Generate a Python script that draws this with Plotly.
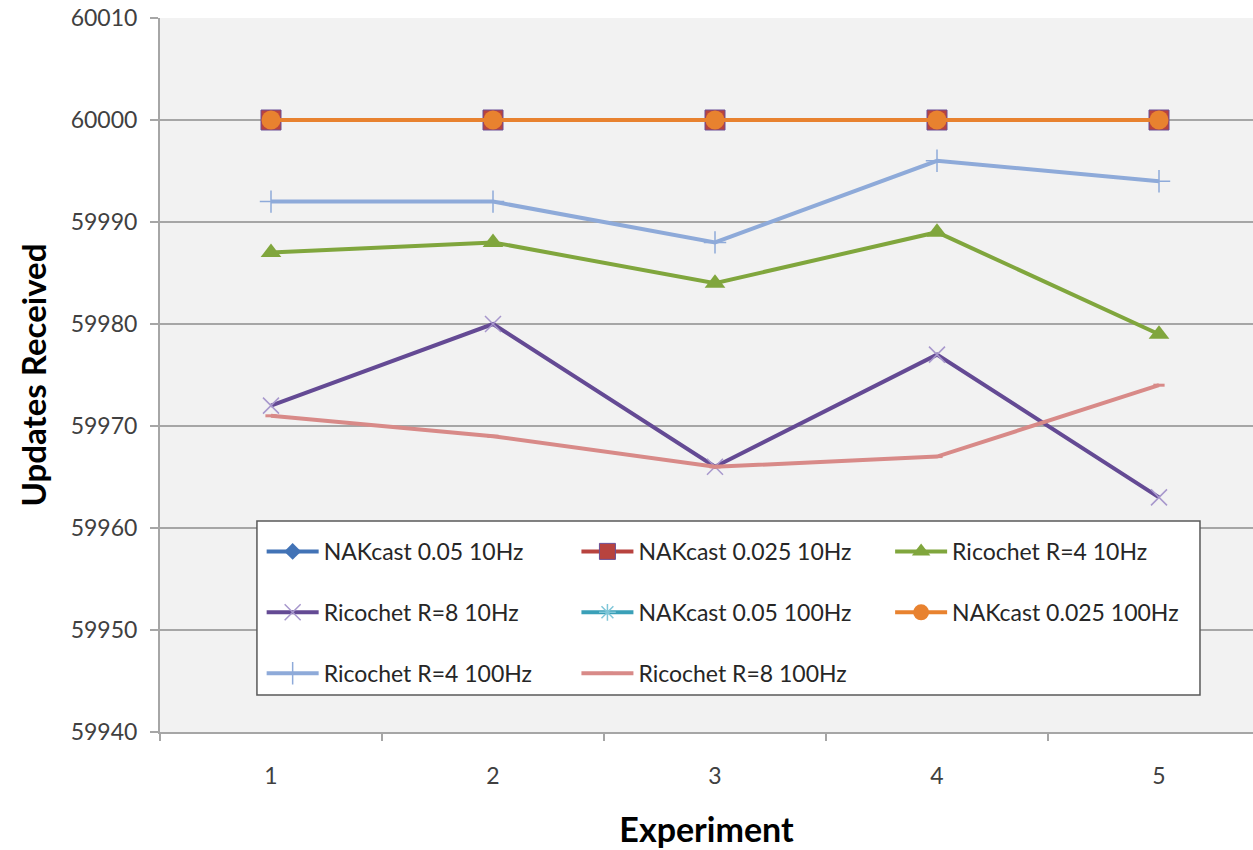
import plotly.graph_objects as go

experiments = [1, 2, 3, 4, 5]
nak_005_10 = [60000, 60000, 60000, 60000, 60000]
nak_0025_10 = [60000, 60000, 60000, 60000, 60000]
ric_r4_10 = [59987, 59988, 59984, 59989, 59979]
ric_r8_10 = [59972, 59980, 59966, 59977, 59963]
nak_005_100 = [60000, 60000, 60000, 60000, 60000]
nak_0025_100 = [60000, 60000, 60000, 60000, 60000]
ric_r4_100 = [59992, 59992, 59988, 59996, 59994]
ric_r8_100 = [59971, 59969, 59966, 59967, 59974]

y_ticks = [59940, 59950, 59960, 59970, 59980, 59990, 60000, 60010]

FONT = "Lato"
series = [
    ("NAKcast 0.05 10Hz", nak_005_10, "#4273b6", dict(symbol="diamond", size=13, color="#4273b6"), "legend", 0),
    ("NAKcast 0.025 10Hz", nak_0025_10, "#b8433f", dict(symbol="square", size=20, color="#b8433f", line=dict(color="#6a4e96", width=1)), "legend2", 0),
    ("Ricochet R=4 10Hz", ric_r4_10, "#80a63d", dict(symbol="triangle-up", size=18, color="#80a63d"), "legend3", 0),
    ("Ricochet R=8 10Hz", ric_r8_10, "#644a94", dict(symbol="x-thin-open", size=16, color="#a797cc", line=dict(width=1.5, color="#a797cc")), "legend", 1),
    ("NAKcast 0.05 100Hz", nak_005_100, "#3aa0b8", dict(symbol="asterisk-open", size=14, color="#7fc6d8", line=dict(width=1.5, color="#7fc6d8")), "legend2", 1),
    ("NAKcast 0.025 100Hz", nak_0025_100, "#e8822f", dict(symbol="circle", size=19, color="#e8822f"), "legend3", 1),
    ("Ricochet R=4 100Hz", ric_r4_100, "#8eaad9", dict(symbol="cross-thin-open", size=16, color="#8eaad9", line=dict(width=1.5, color="#8eaad9")), "legend", 2),
    ("Ricochet R=8 100Hz", ric_r8_100, "#d88a88", dict(symbol="line-ew-open", size=8, color="#d88a88", line=dict(width=3, color="#d88a88")), "legend2", 2),
]

fig = go.Figure()
for i, (name, vals, col, mk, leg, rank) in enumerate(series):
    fig.add_trace(go.Scatter(
        x=experiments, y=vals, name=name, mode="lines+markers",
        line=dict(color=col, width=4), marker=mk,
        legend=leg, legendgroup=f"g{i}", legendrank=rank,
    ))

gap = 28
leg_common = dict(bgcolor="rgba(0,0,0,0)", borderwidth=0, orientation="v",
                  font=dict(family=FONT, size=23, color="#262626"),
                  tracegroupgap=gap, itemwidth=52, xanchor="left", yanchor="top",
                  y=0.283)
fig.update_layout(
    legend=dict(x=0.093, **leg_common),
    legend2=dict(x=0.381, **leg_common),
    legend3=dict(x=0.668, **leg_common),
)

fig.add_shape(type="rect", xref="paper", yref="paper", x0=0.0887, x1=0.9515, y0=0.0518, y1=0.2955,
              fillcolor="white", line=dict(color="#595959", width=1.5), layer="above")

fig.update_layout(
    width=1253, height=850,
    margin=dict(l=160, r=0, t=18, b=118),
    paper_bgcolor="white", plot_bgcolor="#f2f2f2",
    font=dict(family=FONT, color="#404040"),
    xaxis=dict(
        range=[0.5, 5.4234], tickvals=experiments, ticktext=[str(e) for e in experiments],
        ticks="", showgrid=False, showline=True, linecolor="#a6a6a6", linewidth=2,
        tickfont=dict(family=FONT, size=23, color="#404040"),
        minor=dict(tick0=0.5, dtick=1, ticks="outside", ticklen=7, tickcolor="#a6a6a6", tickwidth=2, showgrid=False),
        title=dict(text="<b>Experiment</b>", font=dict(family=FONT, size=34, color="#000000"), standoff=31),
        zeroline=False, ticklabelstandoff=22,
    ),
    yaxis=dict(
        range=[59940, 60010], tickvals=y_ticks, ticktext=[str(v) for v in y_ticks],
        ticks="outside", ticklen=8, tickcolor="#a6a6a6", tickwidth=2,
        showgrid=True, gridcolor="#a6a6a6", gridwidth=1.5,
        showline=True, linecolor="#a6a6a6", linewidth=2,
        tickfont=dict(family=FONT, size=23, color="#404040"),
        title=dict(text="<b>Updates Received</b>", font=dict(family=FONT, size=33, color="#000000"), standoff=14),
        zeroline=False, ticklabelstandoff=8,
    ),
)

fig.write_html("out.html")
